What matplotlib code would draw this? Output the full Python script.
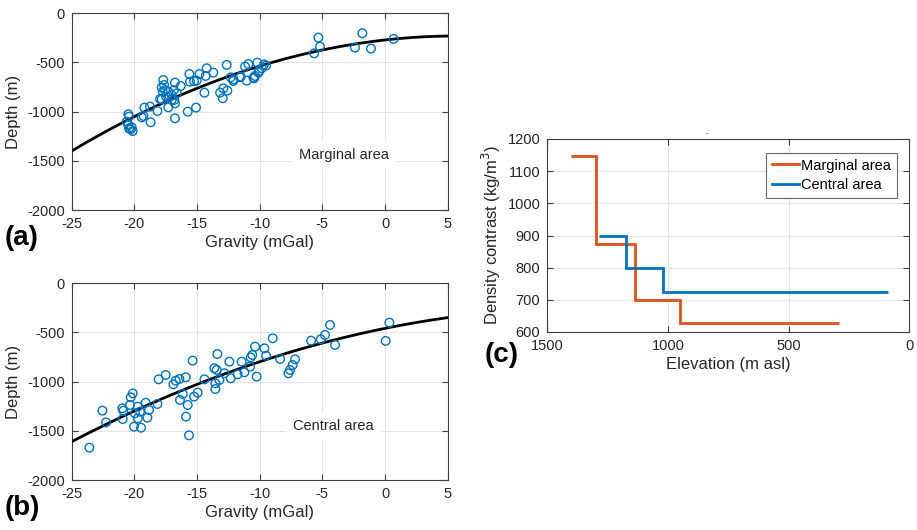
import numpy as np
import matplotlib
matplotlib.use("Agg")
import matplotlib.pyplot as plt

plt.rcParams['font.family'] = ['Liberation Sans', 'DejaVu Sans']
plt.rcParams['axes.unicode_minus'] = False

# --- Panel (a): marginal area, gravity vs depth ---
grav_marginal = [-5.32, -1.81, 0.69, -5.19, -5.66, -2.40, -1.12, -10.19, -10.90, -11.17,
                 -12.63, -9.65, -9.84, -10.03, -10.37, -10.50, -11.04, -11.52, -12.10, -12.31,
                 -12.58, -12.90, -13.16, -12.95, -13.70, -14.23, -14.31, -14.81, -15.03, -15.24,
                 -15.56, -15.61, -14.41, -15.08, -15.74, -16.30, -16.76, -16.84, -16.81, -16.76,
                 -16.76, -17.02, -17.29, -17.47, -17.29, -17.69, -17.63, -17.82, -17.55, -17.82,
                 -17.74, -18.16, -18.75, -18.70, -19.20, -19.28, -19.41, -20.48, -20.43, -20.61,
                 -20.48, -20.43, -20.21, -20.13, -20.30, -9.49, -10.10, -10.45, -12.10, -11.57,
                 -16.62, -17.02, -17.95]
depth_marginal = [-247, -203, -261, -339, -407, -349, -359, -502, -516, -542,
                  -525, -519, -559, -586, -637, -654, -685, -644, -671, -651,
                  -786, -763, -807, -864, -603, -559, -637, -617, -685, -688,
                  -695, -617, -807, -959, -1000, -739, -705, -780, -881, -915,
                  -1068, -831, -797, -848, -956, -678, -729, -753, -780, -875,
                  -797, -993, -949, -1108, -959, -1044, -1058, -1027, -1051, -1102,
                  -1136, -1170, -1159, -1197, -1180, -532, -603, -661, -688, -651,
                  -814, -881, -871]
# quadratic regression coefficients (c0, c1, c2) of depth on gravity
fit_marginal = [-271.0, 14.19, -1.2387]

# --- Panel (b): central area, gravity vs depth ---
grav_central = [-23.59, -22.55, -22.26, -20.96, -20.88, -20.93, -20.29, -20.13, -20.35, -20.03,
                -19.95, -19.73, -19.73, -19.47, -19.55, -19.10, -18.96, -18.83, -18.16, -18.06,
                -17.50, -16.89, -16.70, -16.41, -15.90, -16.36, -16.14, -15.74, -15.88, -15.64,
                -15.35, -15.24, -14.95, -14.41, -13.62, -13.43, -13.38, -13.54, -13.54, -13.22,
                -12.82, -12.42, -12.31, -11.76, -11.44, -11.22, -10.77, -10.72, -10.59, -10.37,
                -10.24, -9.63, -9.49, -8.96, -8.37, -7.71, -7.58, -7.37, -7.18, -5.90,
                -5.13, -4.79, -4.39, -3.99, 0.05, 0.35]
depth_central = [-1671, -1295, -1414, -1271, -1295, -1380, -1159, -1119, -1237, -1458,
                 -1322, -1254, -1373, -1468, -1305, -1214, -1366, -1288, -1227, -976,
                 -932, -1027, -990, -973, -956, -1186, -1125, -1237, -1356, -1546,
                 -786, -1153, -1112, -976, -864, -881, -719, -1017, -1075, -983,
                 -915, -797, -966, -925, -797, -905, -847, -753, -729, -644,
                 -949, -661, -736, -559, -769, -915, -881, -831, -773, -583,
                 -569, -525, -424, -627, -586, -400]
fit_central = [-458.0, 25.85, -0.809]

# --- Panel (c): density contrast profiles vs elevation ---
elev_edges_marginal = [290, 950, 1135, 1300, 1400]
density_marginal = [628, 700, 875, 1148]
elev_edges_central = [90, 1020, 1175, 1285]
density_central = [725, 800, 900]

BLUE = '#0072BD'
ORANGE = '#D95319'
AXCOL = '#404040'
GRIDCOL = '#e3e3e3'

W, H = 917, 530
fig = plt.figure(figsize=(W / 100, H / 100), dpi=100)


def px_axes(left, top, right, bottom):
    return fig.add_axes([left / W, 1 - bottom / H, (right - left) / W, (bottom - top) / H])


def style(ax):
    for s in ax.spines.values():
        s.set_color(AXCOL)
        s.set_linewidth(0.8)
    ax.tick_params(direction='in', length=4, width=0.8, colors=AXCOL,
                   labelcolor='#262626', labelsize=10.5, top=True, right=True, pad=5)
    ax.grid(True, color=GRIDCOL, linewidth=0.8)
    ax.set_axisbelow(True)


def gravity_panel(ax, g, d, coef, label, label_xy):
    style(ax)
    xs = np.linspace(-25, 5, 300)
    ax.plot(xs, np.polyval(coef[::-1], xs), color='black', lw=2.0, zorder=3)
    ax.scatter(g, d, s=38, facecolors='none', edgecolors=BLUE, linewidths=1.0, zorder=4)
    ax.set_xlim(-25, 5)
    ax.set_ylim(-2000, 0)
    ax.set_xticks(range(-25, 6, 5))
    ax.set_yticks(range(-2000, 1, 500))
    ax.set_xlabel('Gravity (mGal)', fontsize=12, color='#262626', labelpad=3)
    ax.set_ylabel('Depth (m)', fontsize=12, color='#262626', labelpad=4)
    ax.text(*label_xy, label, fontsize=10.5, color='#262626', ha='center', va='center',
            zorder=5, bbox=dict(facecolor='white', edgecolor='none', pad=5))


ax_a = px_axes(71.7, 13.3, 447.7, 210)
gravity_panel(ax_a, grav_marginal, depth_marginal, fit_marginal, 'Marginal area', (-3.3, -1440))

ax_b = px_axes(71.7, 283.3, 447.7, 480)
gravity_panel(ax_b, grav_central, depth_central, fit_central, 'Central area', (-4.1, -1450))

ax_c = px_axes(547.3, 139, 909.3, 332)
style(ax_c)
ax_c.stairs(density_marginal, elev_edges_marginal, baseline=None, color=ORANGE, lw=2.0,
            label='Marginal area')
ax_c.stairs(density_central, elev_edges_central, baseline=None, color=BLUE, lw=2.0,
            label='Central area')
ax_c.set_xlim(1500, 0)
ax_c.set_ylim(600, 1200)
ax_c.set_xticks([1500, 1000, 500, 0])
ax_c.set_yticks(range(600, 1201, 100))
ax_c.set_xlabel('Elevation (m asl)', fontsize=12, color='#262626', labelpad=3)
ax_c.set_ylabel(r'Density contrast (kg/m$^3$)', fontsize=12, color='#262626', labelpad=3)
ax_c.text(0.44, 1.01, '-', transform=ax_c.transAxes, fontsize=6, color='#262626',
          ha='center', va='bottom')
leg = ax_c.legend(loc='upper right', bbox_to_anchor=(0.965, 0.929), fontsize=10.5,
                  frameon=True, fancybox=False, handlelength=1.85, handletextpad=0.15,
                  borderpad=0.4, labelspacing=0.4, borderaxespad=0)
leg.get_frame().set_edgecolor(AXCOL)
leg.get_frame().set_linewidth(0.8)

# panel letters
fig.text(5 / W, 1 - 238 / H, '(a)', fontsize=20, fontweight='bold', va='center', ha='left')
fig.text(5 / W, 1 - 508 / H, '(b)', fontsize=20, fontweight='bold', va='center', ha='left')
fig.text(485 / W, 1 - 355 / H, '(c)', fontsize=20, fontweight='bold', va='center', ha='left')

fig.savefig('out.png', dpi=100, facecolor='white')
